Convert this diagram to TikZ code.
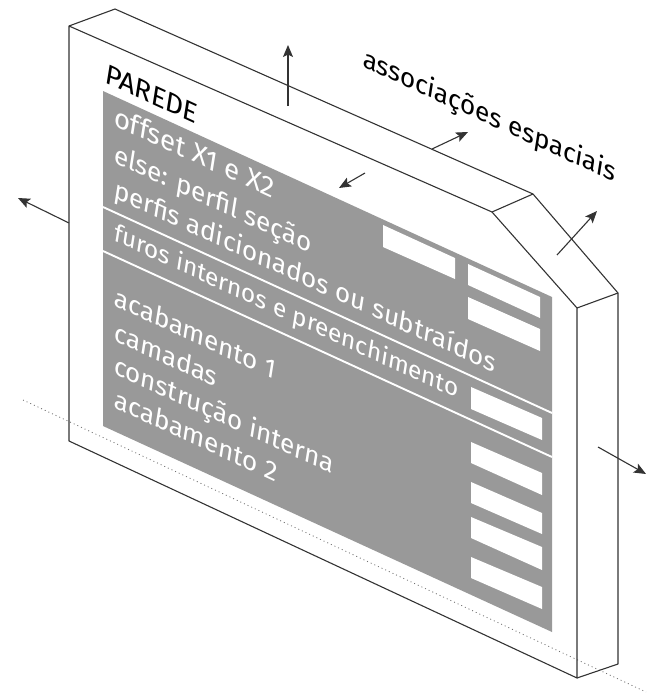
\documentclass[tikz,border=0pt]{standalone}
\usepackage{fontspec}
\setmainfont{Fira Sans}
\usetikzlibrary{arrows.meta}
\definecolor{painel}{HTML}{999999}
\definecolor{traco}{HTML}{333333}
\tikzset{
    parede/.style={line width=1.1pt, draw=traco, line join=round},
    seta/.style={line width=1.1pt, draw=traco, ->},
    caixa/.style={fill=white, draw=none},
    rotulo/.style={anchor=base west, inner sep=0pt, font=\fontsize{25.6}{25.6}\selectfont, transform shape, cm={1,-0.46,0.16,1,(0,0)}, text=#1},
    rotulo/.default=white
}
\begin{document}
\begin{tikzpicture}[>={Stealth[length=12pt,width=10pt,inset=2.5pt]}, x=1pt, y=-1pt]
    \useasboundingbox (0,0) rectangle (646,696);
    % 1. Linha pontilhada do piso
    \draw[traco!70, line width=0.8pt, dash pattern=on 1pt off 3pt] (23,400) -- (646,692);

    % 2. Volume da parede
    \draw[parede] (69,26) -- (492,212) -- (577,308) -- (577,678) -- (69,441) -- cycle;
    \draw[parede] (69,26) -- (115,9) -- (533,194) -- (618,293) -- (618,664) -- (577,678);
    \draw[parede] (492,212) -- (533,194);
    \draw[parede] (577,308) -- (618,293);

    % 3. Painel cinza e divisorias
    \fill[painel] (103,91) -- (552,297) -- (552,632) -- (103,426) -- cycle;
    \draw[white, line width=1.9pt] (103,207) -- (552,413);
    \draw[white, line width=1.9pt] (103,251) -- (552,457);

    % 4. Campos brancos
    \fill[caixa] (383,225) -- (455,258) -- (455,279) -- (383,247) -- cycle;
    \fill[caixa] (468,264) -- (540,297) -- (540,318) -- (468,285) -- cycle;
    \fill[caixa] (468,297) -- (540,329) -- (540,351) -- (468,319) -- cycle;
    \fill[caixa] (471,387) -- (542,418) -- (542,440) -- (471,409) -- cycle;
    \fill[caixa] (471,442) -- (542,473) -- (542,495) -- (471,463) -- cycle;
    \fill[caixa] (471,482) -- (542,513) -- (542,534) -- (471,503) -- cycle;
    \fill[caixa] (471,517) -- (542,547) -- (542,570) -- (471,538) -- cycle;
    \fill[caixa] (471,557) -- (542,587) -- (542,609) -- (471,578) -- cycle;

    % 5. Setas
    \draw[seta] (288,106) -- (288,45);
    \draw[seta] (365,173) -- (339,188);
    \draw[seta] (432,149) -- (468,132);
    \draw[seta] (557,255) -- (597,211);
    \draw[seta] (598,447) -- (646,474);
    \draw[seta] (69,223) -- (18,198);

    % 6. Textos
    \node[rotulo=black, font=\fontsize{27}{27}\selectfont] (titulo) at (104,82) {PAREDE};
    \node[rotulo, font=\fontsize{27}{27}\selectfont] (offset) at (113,125) {offset X1 e X2};
    \node[rotulo] (perfil) at (113,162) {else: perfil seção};
    \node[rotulo] (perfis) at (113,197) {perfis adicionados ou subtraídos};
    \node[rotulo, font=\fontsize{24}{24}\selectfont] (furos) at (113,240) {furos internos e preenchimento};
    \node[rotulo] (acab1) at (113,305) {acabamento 1};
    \node[rotulo] (camadas) at (113,340) {camadas};
    \node[rotulo] (constr) at (113,373) {construção interna};
    \node[rotulo] (acab2) at (113,407) {acabamento 2};
    \node[rotulo=black] (assoc) at (362,66) {associações espaciais};
\end{tikzpicture}
\end{document}
